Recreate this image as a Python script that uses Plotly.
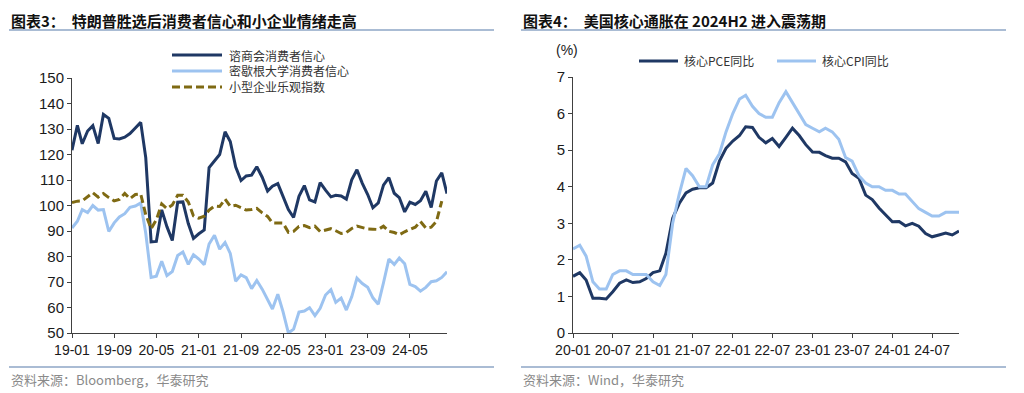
import plotly.graph_objects as go
import pandas as pd

# ---------------- Left chart data (2019-01 .. 2024-12) ----------------
left_months = pd.date_range("2019-01-01", "2024-12-01", freq="MS")
conf_board = [121.7, 131.4, 124.2, 129.2, 131.3, 124.3, 135.7, 134.2, 126.3, 126.1, 126.8, 128.2,
              130.4, 132.6, 118.8, 85.7, 85.9, 98.3, 91.7, 86.3, 101.3, 101.4, 92.9, 87.1,
              88.9, 90.4, 114.9, 117.5, 120.0, 128.9, 125.1, 115.2, 109.8, 111.6, 111.9, 115.2,
              111.1, 105.7, 107.6, 108.6, 103.2, 98.4, 95.3, 103.6, 107.8, 102.2, 101.4, 109.0,
              106.0, 103.4, 104.0, 103.7, 102.5, 110.1, 114.0, 108.7, 104.3, 99.1, 101.0, 108.0,
              110.9, 104.8, 103.1, 97.5, 101.3, 100.4, 101.9, 105.6, 99.2, 109.6, 112.8, 104.7]
michigan = [91.2, 93.8, 98.4, 97.2, 100.0, 98.2, 98.4, 89.8, 93.2, 95.5, 96.8, 99.3,
            99.8, 101.0, 89.1, 71.8, 72.3, 78.1, 72.5, 74.1, 80.4, 81.8, 76.9, 80.7,
            79.0, 76.8, 84.9, 88.3, 82.9, 85.5, 81.2, 70.3, 72.8, 71.7, 67.4, 70.6,
            67.2, 62.8, 59.4, 65.2, 58.4, 50.0, 51.5, 58.2, 58.6, 59.9, 56.8, 59.7,
            64.9, 67.0, 62.0, 63.7, 59.0, 64.2, 71.5, 69.4, 67.9, 63.8, 61.3, 69.7,
            79.0, 76.9, 79.4, 77.2, 69.1, 68.2, 66.4, 67.9, 70.1, 70.5, 71.8, 74.0]
nfib = [101.2, 101.7, 101.8, 103.5, 105.0, 103.3, 104.7, 103.1, 101.8, 102.4, 104.7, 102.7,
        104.3, 104.5, 96.4, 90.9, 94.4, 100.6, 98.8, 100.2, 104.0, 104.0, 101.4, 95.9,
        95.0, 95.8, 98.2, 99.8, 99.6, 102.5, 99.7, 100.1, 99.1, 98.2, 98.4, 98.9,
        97.1, 95.7, 93.2, 93.2, 93.1, 89.5, 89.9, 91.8, 92.1, 91.3, 91.9, 89.8,
        90.3, 90.9, 90.1, 89.0, 89.4, 91.0, 91.9, 91.3, 90.8, 90.7, 90.6, 91.9,
        89.9, 89.4, 88.5, 89.7, 90.5, 91.5, 93.7, 91.2, 91.5, 93.7, 101.7, None]
left_names = ["谘商会消费者信心", "密歇根大学消费者信心", "小型企业乐观指数"]

# ---------------- Right chart data (2020-01 .. 2024-11) ----------------
right_months = pd.date_range("2020-01-01", "2024-11-01", freq="MS")
core_pce = [1.55, 1.65, 1.45, 0.95, 0.95, 0.93, 1.13, 1.36, 1.45, 1.38, 1.40, 1.49,
            1.65, 1.70, 2.18, 3.14, 3.54, 3.83, 3.93, 3.97, 3.97, 4.10, 4.70, 5.05,
            5.25, 5.40, 5.64, 5.62, 5.35, 5.20, 5.32, 5.10, 5.35, 5.60, 5.40, 5.15,
            4.95, 4.94, 4.85, 4.78, 4.78, 4.68, 4.36, 4.23, 3.77, 3.65, 3.42, 3.22,
            3.04, 3.05, 2.93, 3.00, 2.92, 2.72, 2.63, 2.68, 2.73, 2.68, 2.79, 2.82]
core_cpi = [2.3, 2.4, 2.1, 1.4, 1.2, 1.2, 1.6, 1.7, 1.7, 1.6, 1.6, 1.6,
            1.4, 1.3, 1.6, 3.0, 3.8, 4.5, 4.3, 4.0, 4.0, 4.6, 4.9, 5.5,
            6.0, 6.4, 6.5, 6.2, 6.0, 5.9, 5.9, 6.3, 6.6, 6.3, 6.0, 5.7,
            5.6, 5.5, 5.6, 5.5, 5.3, 4.8, 4.7, 4.3, 4.1, 4.0, 4.0, 3.9,
            3.9, 3.8, 3.8, 3.6, 3.4, 3.3, 3.2, 3.2, 3.3, 3.3, 3.3, 3.3]
right_names = ["核心PCE同比", "核心CPI同比"]

NAVY = "#1f3864"
LBLUE = "#9dc3f0"
OLIVE = "#7f6a13"
OLIVE_DASH = "8px,4px"
XTICKFONT = dict(family="Liberation Sans", size=14, color="#1a1a1a")
YTICKFONT = dict(family="Liberation Sans", size=15, color="#1a1a1a")
CJK = "Noto Sans CJK SC"

# The page body adds an 8px margin, so the figure is 8px smaller and
# window-pixel positions are converted accordingly.
OFF = 8
W, H = 1024 - OFF, 393 - OFF

fig = go.Figure()
fig.add_trace(go.Scatter(x=left_months, y=conf_board, name=left_names[0], mode="lines",
                         line=dict(color=NAVY, width=3), xaxis="x", yaxis="y"))
fig.add_trace(go.Scatter(x=left_months, y=michigan, name=left_names[1], mode="lines",
                         line=dict(color=LBLUE, width=3), xaxis="x", yaxis="y"))
fig.add_trace(go.Scatter(x=left_months, y=nfib, name=left_names[2], mode="lines",
                         line=dict(color=OLIVE, width=3, dash=OLIVE_DASH), xaxis="x", yaxis="y"))
fig.add_trace(go.Scatter(x=right_months, y=core_pce, name=right_names[0], mode="lines",
                         line=dict(color=NAVY, width=3), xaxis="x2", yaxis="y2"))
fig.add_trace(go.Scatter(x=right_months, y=core_cpi, name=right_names[1], mode="lines",
                         line=dict(color=LBLUE, width=3), xaxis="x2", yaxis="y2"))


def px(x):
    return (x - OFF) / W


def py(y):
    return 1 - (y - OFF) / H


axis_common = dict(showline=True, linecolor="#404040", linewidth=1, ticks="outside",
                   ticklen=4, tickcolor="#404040", showgrid=False, zeroline=False,
                   fixedrange=True, automargin=False)

fig.update_layout(
    template="none",
    width=W, height=H,
    margin=dict(l=0, r=0, t=0, b=0, pad=0, autoexpand=False),
    paper_bgcolor="white", plot_bgcolor="white",
    showlegend=False,
    xaxis=dict(domain=[px(72), px(447)], anchor="y", type="date",
               range=["2019-01-01", "2024-12-01"], tick0="2019-01-01", dtick="M8",
               tickformat="%y-%m", tickfont=XTICKFONT, **axis_common),
    yaxis=dict(domain=[py(333), py(78)], anchor="x", range=[50, 150], dtick=10,
               tickfont=YTICKFONT, **axis_common),
    xaxis2=dict(domain=[px(573), px(959)], anchor="y2", type="date",
                range=["2020-01-01", "2024-11-01"], tick0="2020-01-01", dtick="M6",
                tickformat="%y-%m", tickfont=XTICKFONT, **axis_common),
    yaxis2=dict(domain=[py(333), py(77)], anchor="x2", range=[0, 7], dtick=1,
                tickfont=YTICKFONT, **axis_common),
)

# Titles
fig.add_annotation(text="<b>图表3：  特朗普胜选后消费者信心和小企业情绪走高</b>", xref="paper", yref="paper",
                   x=px(9), y=py(20), xanchor="left", yanchor="middle", showarrow=False,
                   font=dict(family=CJK, size=15, color="#111"))
fig.add_annotation(text="<b>图表4：  美国核心通胀在 2024H2 进入震荡期</b>", xref="paper", yref="paper",
                   x=px(521), y=py(20), xanchor="left", yanchor="middle", showarrow=False,
                   font=dict(family=CJK, size=15, color="#111"))
# Sources
fig.add_annotation(text="资料来源：Bloomberg，华泰研究", xref="paper", yref="paper",
                   x=px(9), y=py(379), xanchor="left", yanchor="middle", showarrow=False,
                   font=dict(family=CJK, size=13, color="#8a8a8a"))
fig.add_annotation(text="资料来源：Wind，华泰研究", xref="paper", yref="paper",
                   x=px(521), y=py(379), xanchor="left", yanchor="middle", showarrow=False,
                   font=dict(family=CJK, size=13, color="#8a8a8a"))
# Unit label
fig.add_annotation(text="(%)", xref="paper", yref="paper", x=px(567), y=py(50),
                   xanchor="center", yanchor="middle", showarrow=False,
                   font=dict(family="Liberation Sans", size=14, color="#1a1a1a"))

# Legends (drawn as keys next to each chart)
left_styles = [dict(color=NAVY, width=3), dict(color=LBLUE, width=3),
               dict(color=OLIVE, width=3, dash=OLIVE_DASH)]
for i, (name, st) in enumerate(zip(left_names, left_styles)):
    yy = 55 + 16 * i
    fig.add_shape(type="line", xref="paper", yref="paper", x0=px(172), x1=px(222),
                  y0=py(yy), y1=py(yy), line=st)
    fig.add_annotation(text=name, xref="paper", yref="paper", x=px(227), y=py(yy),
                       xanchor="left", yanchor="middle", showarrow=False,
                       font=dict(family=CJK, size=12, color="#333"))

right_styles = [dict(color=NAVY, width=3), dict(color=LBLUE, width=3)]
for (name, st, x0) in zip(right_names, right_styles, [639, 777]):
    fig.add_shape(type="line", xref="paper", yref="paper", x0=px(x0), x1=px(x0 + 39),
                  y0=py(61), y1=py(61), line=st)
    fig.add_annotation(text=name, xref="paper", yref="paper", x=px(x0 + 43), y=py(61),
                       xanchor="left", yanchor="middle", showarrow=False,
                       font=dict(family=CJK, size=12, color="#333"))

# Separator lines
for x0, x1 in [(9, 494), (521, 1006)]:
    for yy in (30, 367):
        fig.add_shape(type="line", xref="paper", yref="paper", x0=px(x0), x1=px(x1),
                      y0=py(yy), y1=py(yy), line=dict(color="#8ea6c6", width=1.5))

fig.write_html("out.html")
